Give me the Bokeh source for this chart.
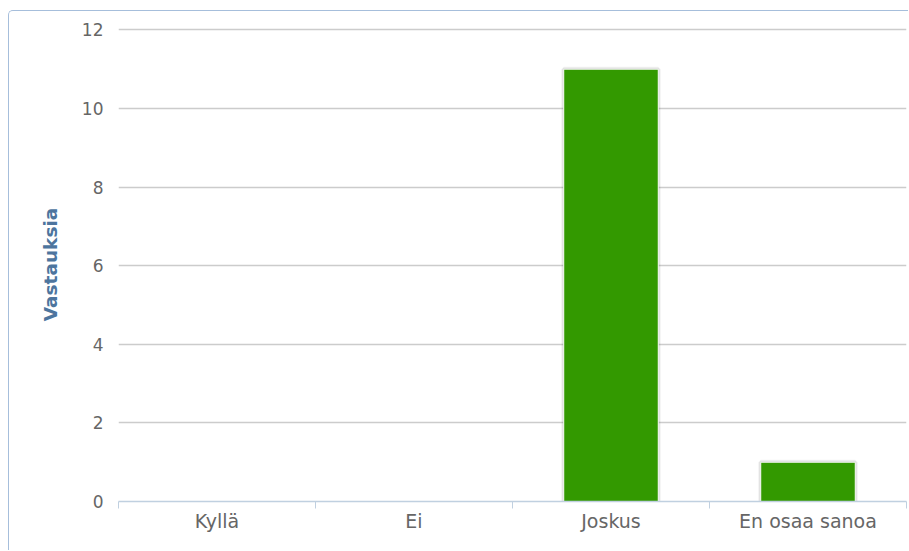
from bokeh.plotting import figure
from bokeh.models import Range1d, FixedTicker, CDSView, BooleanFilter, ColumnDataSource
from bokeh.embed import file_html
from bokeh.resources import INLINE

# Survey answers per option
categories = ["Kyllä", "Ei", "Joskus", "En osaa sanoa"]
answers = [0, 0, 11, 1]
y_ticks = [0, 2, 4, 6, 8, 10, 12]
axis_title = "Vastauksia"

xs = list(range(len(categories)))
boundaries = [i - 0.5 for i in range(len(categories) + 1)]

src = ColumnDataSource(dict(x=xs, top=answers))
nonzero = CDSView(filter=BooleanFilter([v > 0 for v in answers]))

p = figure(
    width=900, height=540,
    x_range=Range1d(-0.5, len(categories) - 0.5),
    y_range=Range1d(0, 12.06),
    output_backend="svg", toolbar_location=None, tools="",
    min_border_left=109, min_border_right=3, min_border_top=16, min_border_bottom=50,
)
p.margin = (10, 0, 0, 8)
p.styles = {
    "border-top": "1px solid #a6bedb",
    "border-left": "1px solid #a6bedb",
    "border-top-left-radius": "5px",
}
p.outline_line_color = None
p.background_fill_color = "white"
p.border_fill_color = "white"

# soft shadow under the columns
for lw, la in [(5, 0.05), (3, 0.08), (1, 0.12)]:
    p.vbar(x="x", top="top", width=0.48, source=src, view=nonzero,
           fill_color=None, line_color="black", line_alpha=la, line_width=lw)
p.vbar(x="x", top="top", width=0.48, source=src, view=nonzero,
       fill_color="#339900", line_color="white", line_width=1)

# x axis: labels at category centres, tick marks at the boundaries
xa = p.xaxis[0]
xa.ticker = FixedTicker(ticks=xs, minor_ticks=boundaries)
xa.major_label_overrides = {i: c for i, c in zip(xs, categories)}
xa.major_tick_out = 0
xa.major_tick_in = 0
xa.minor_tick_out = 7
xa.minor_tick_in = 0
xa.minor_tick_line_color = "#c0d0e0"
xa.axis_line_color = "#c0d0e0"
xa.axis_line_width = 1.5
xa.major_label_text_font = "DejaVu Sans"
xa.major_label_text_font_size = "19px"
xa.major_label_text_color = "#666666"
xa.major_label_standoff = 1

ya = p.yaxis[0]
ya.ticker = FixedTicker(ticks=y_ticks)
ya.axis_line_color = None
ya.major_tick_line_color = None
ya.major_tick_out = 0
ya.major_tick_in = 0
ya.minor_tick_line_color = None
ya.minor_tick_out = 0
ya.minor_tick_in = 0
ya.major_label_text_font = "DejaVu Sans"
ya.major_label_text_font_size = "17px"
ya.major_label_text_color = "#666666"
ya.major_label_standoff = 15
ya.axis_label = axis_title
ya.axis_label_text_font = "DejaVu Sans"
ya.axis_label_text_font_size = "18.5px"
ya.axis_label_text_font_style = "bold"
ya.axis_label_text_color = "#4d759e"
ya.axis_label_standoff = 18

p.xgrid.grid_line_color = None
p.ygrid.grid_line_color = "#cccccc"
p.ygrid.grid_line_width = 1.5

open("out.html", "w").write(file_html(p, INLINE))
